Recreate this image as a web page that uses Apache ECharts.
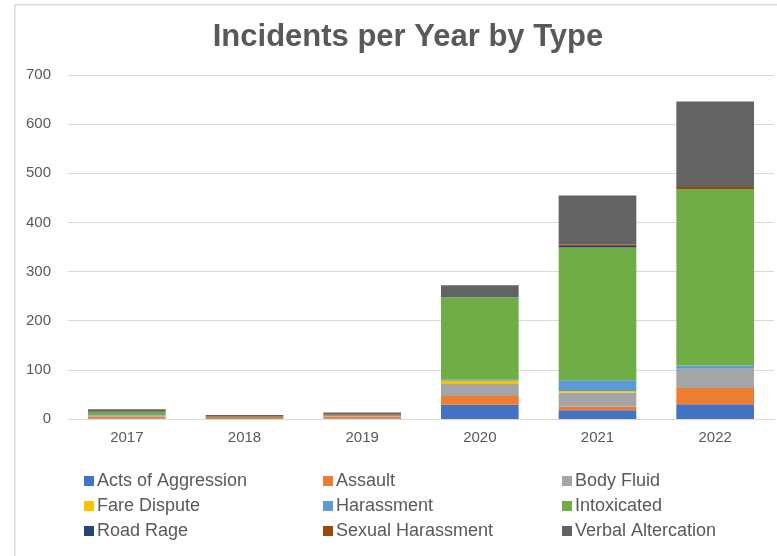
<!DOCTYPE html>
<html>
<head>
<meta charset="utf-8">
<script src="https://cdn.jsdelivr.net/npm/echarts@6/dist/echarts.min.js"></script>
<style>
html,body{margin:0;padding:0;background:#fff;}
#c{width:777px;height:556px;}
</style>
</head>
<body>
<div id="c"></div>
<script>
var years = ['2017','2018','2019','2020','2021','2022'];
var actsOfAggression  = [1, 0, 1, 29, 18, 30];
var assault           = [4, 2, 4, 18, 7, 33];
var bodyFluid         = [2, 0, 1, 24, 29, 39];
var fareDispute       = [0, 0, 0, 7, 3, 0];
var harassment        = [1, 0, 0, 2, 22, 7];
var intoxicated       = [6, 1, 1, 168, 270, 359];
var roadRage          = [0, 0, 0, 0, 3, 0];
var sexualHarassment  = [2, 2, 2, 0, 3, 4];
var verbalAltercation = [4, 3, 4, 24, 100, 174];
var yTicks = [0, 100, 200, 300, 400, 500, 600, 700];

var seriesDefs = [
  ['Acts of Aggression', actsOfAggression, '#4472C4'],
  ['Assault', assault, '#ED7D31'],
  ['Body Fluid', bodyFluid, '#A5A5A5'],
  ['Fare Dispute', fareDispute, '#FFC000'],
  ['Harassment', harassment, '#5B9BD5'],
  ['Intoxicated', intoxicated, '#70AD47'],
  ['Road Rage', roadRage, '#264478'],
  ['Sexual Harassment', sexualHarassment, '#9E480E'],
  ['Verbal Altercation', verbalAltercation, '#636363']
];

var chart = echarts.init(document.getElementById('c'), null, {renderer:'canvas'});
var legendBase = {
  orient: 'vertical',
  top: 471,
  itemWidth: 10,
  itemHeight: 10,
  itemGap: 5,
  icon: 'rect',
  textStyle: {fontFamily: 'Liberation Sans, Arial, sans-serif', fontSize: 18, color: '#595959', lineHeight: 20, padding: [0,0,0,-2]}
};
function legend(left, names){
  var o = JSON.parse(JSON.stringify(legendBase));
  o.left = left; o.data = names; o.padding = 0;
  return o;
}
chart.setOption({
  animation: false,
  color: seriesDefs.map(function(d){return d[2];}),
  graphic: [{
    type: 'rect', left: 14, top: 4, silent: true, z: -10,
    shape: {width: 800, height: 600},
    style: {fill: '#fff', stroke: '#d9d9d9', lineWidth: 1.5}
  }],
  title: {
    text: 'Incidents per Year by Type',
    left: 403, top: 17, textAlign: 'center',
    textStyle: {fontFamily: 'Liberation Sans, Arial, sans-serif', fontSize: 31, fontWeight: 'bold', color: '#595959'}
  },
  legend: [
    legend(84, ['Acts of Aggression','Fare Dispute','Road Rage']),
    legend(323, ['Assault','Harassment','Sexual Harassment']),
    legend(562, ['Body Fluid','Intoxicated','Verbal Altercation'])
  ],
  grid: {left: 68, right: 3, top: 75, bottom: 137, containLabel: false},
  xAxis: {
    type: 'category', data: years,
    axisLine: {lineStyle: {color: '#d9d9d9', width: 1}},
    axisTick: {show: false},
    axisLabel: {fontFamily: 'Liberation Sans, Arial, sans-serif', fontSize: 15, color: '#595959', margin: 11}
  },
  yAxis: {
    type: 'value', min: 0, max: 700, interval: 100,
    axisLine: {show: false}, axisTick: {show: false},
    splitLine: {lineStyle: {color: '#d9d9d9', width: 1}},
    axisLabel: {fontFamily: 'Liberation Sans, Arial, sans-serif', fontSize: 15, color: '#595959', margin: 17,
      formatter: function(v){ return yTicks.indexOf(v) >= 0 ? String(v) : ''; }}
  },
  series: seriesDefs.map(function(d){
    return {
      name: d[0], type: 'bar', stack: 'total', data: d[1],
      barWidth: '66%',
      itemStyle: {color: d[2]}
    };
  })
});
</script>
</body>
</html>
